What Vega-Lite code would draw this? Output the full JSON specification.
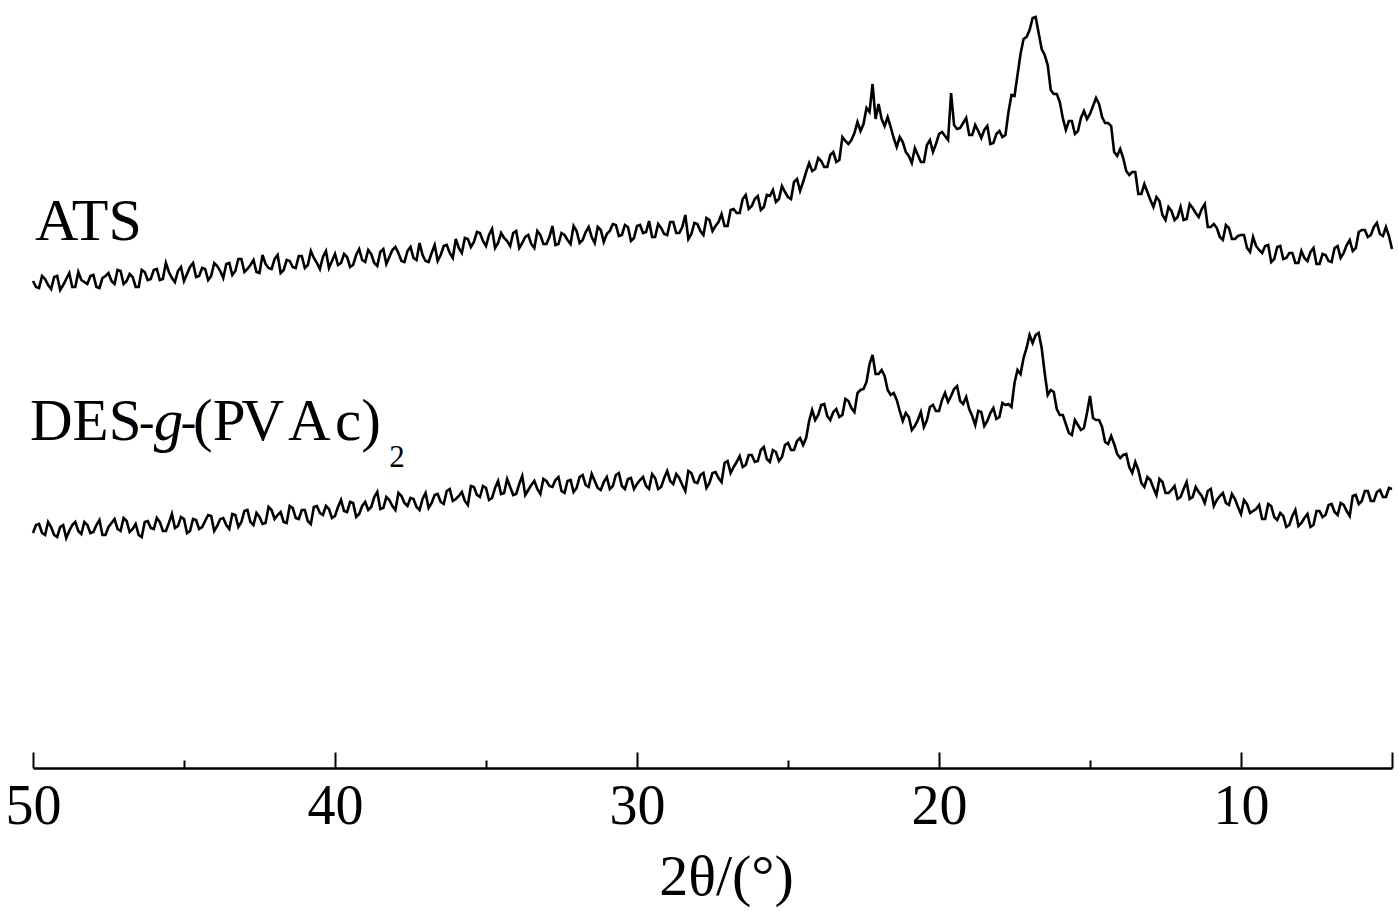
{
  "$schema": "https://vega.github.io/schema/vega-lite/v6.json",
  "description": "XRD patterns of ATS and DES-g-(PVAc)2",
  "width": 1359,
  "height": 768,
  "autosize": "none",
  "padding": {"left": 33, "right": 6, "top": 0, "bottom": 143},
  "config": {
    "view": {"stroke": null},
    "font": "Liberation Serif"
  },
  "datasets": {
    "xrd": [
      {"t":50.0,"a":487,"d":235},{"t":49.8,"a":480,"d":244},{"t":49.6,"a":489,"d":233},{"t":49.4,"a":479,"d":241},{"t":49.2,"a":492,"d":231},
      {"t":49.0,"a":483,"d":243},{"t":48.8,"a":495,"d":237},{"t":48.6,"a":481,"d":246},{"t":48.4,"a":488,"d":234},{"t":48.2,"a":484,"d":243},
      {"t":48.0,"a":493,"d":236},{"t":47.8,"a":480,"d":248},{"t":47.6,"a":492,"d":233},{"t":47.4,"a":487,"d":245},{"t":47.2,"a":498,"d":239},
      {"t":47.0,"a":484,"d":250},{"t":46.8,"a":494,"d":236},{"t":46.6,"a":481,"d":244},{"t":46.4,"a":498,"d":231},{"t":46.2,"a":488,"d":247},
      {"t":46.0,"a":498,"d":239},{"t":45.8,"a":488,"d":246},{"t":45.6,"a":505,"d":237},{"t":45.4,"a":490,"d":254},{"t":45.2,"a":497,"d":242},
      {"t":45.0,"a":487,"d":249},{"t":44.8,"a":501,"d":237},{"t":44.6,"a":491,"d":248},{"t":44.4,"a":500,"d":241},{"t":44.2,"a":488,"d":253},
      {"t":44.0,"a":505,"d":237},{"t":43.8,"a":497,"d":249},{"t":43.6,"a":504,"d":243},{"t":43.4,"a":493,"d":254},{"t":43.2,"a":509,"d":241},
      {"t":43.0,"a":496,"d":257},{"t":42.8,"a":503,"d":246},{"t":42.6,"a":496,"d":255},{"t":42.4,"a":513,"d":244},{"t":42.2,"a":500,"d":261},
      {"t":42.0,"a":509,"d":249},{"t":41.8,"a":495,"d":256},{"t":41.6,"a":508,"d":245},{"t":41.4,"a":501,"d":260},{"t":41.2,"a":512,"d":249},
      {"t":41.0,"a":500,"d":258},{"t":40.8,"a":517,"d":244},{"t":40.6,"a":505,"d":262},{"t":40.4,"a":511,"d":253},{"t":40.2,"a":500,"d":259},
      {"t":40.0,"a":514,"d":252},{"t":39.8,"a":505,"d":268},{"t":39.6,"a":511,"d":256},{"t":39.4,"a":503,"d":265},{"t":39.2,"a":519,"d":254},
      {"t":39.0,"a":506,"d":266},{"t":38.8,"a":514,"d":261},{"t":38.6,"a":502,"d":276},{"t":38.4,"a":519,"d":260},{"t":38.2,"a":511,"d":268},
      {"t":38.0,"a":521,"d":258},{"t":37.8,"a":507,"d":272},{"t":37.6,"a":517,"d":262},{"t":37.4,"a":510,"d":269},{"t":37.2,"a":525,"d":258},
      {"t":37.0,"a":507,"d":275},{"t":36.8,"a":515,"d":265},{"t":36.6,"a":507,"d":274},{"t":36.4,"a":522,"d":264},{"t":36.2,"a":515,"d":279},
      {"t":36.0,"a":529,"d":269},{"t":35.8,"a":515,"d":276},{"t":35.6,"a":529,"d":263},{"t":35.4,"a":526,"d":281},{"t":35.2,"a":535,"d":271},
      {"t":35.0,"a":522,"d":280},{"t":34.8,"a":539,"d":270},{"t":34.6,"a":525,"d":287},{"t":34.4,"a":530,"d":275},{"t":34.2,"a":522,"d":281},
      {"t":34.0,"a":537,"d":274},{"t":33.8,"a":525,"d":292},{"t":33.6,"a":533,"d":278},{"t":33.4,"a":520,"d":287},{"t":33.2,"a":533,"d":274},
      {"t":33.0,"a":524,"d":287},{"t":32.8,"a":542,"d":281},{"t":32.6,"a":524,"d":291},{"t":32.4,"a":533,"d":275},{"t":32.2,"a":524,"d":288},
      {"t":32.0,"a":537,"d":280},{"t":31.8,"a":528,"d":293},{"t":31.6,"a":541,"d":281},{"t":31.4,"a":525,"d":287},{"t":31.2,"a":538,"d":278},
      {"t":31.0,"a":534,"d":291},{"t":30.8,"a":544,"d":282},{"t":30.6,"a":532,"d":295},{"t":30.4,"a":543,"d":279},{"t":30.2,"a":527,"d":290},
      {"t":30.0,"a":542,"d":284},{"t":29.8,"a":535,"d":291},{"t":29.6,"a":547,"d":279},{"t":29.4,"a":531,"d":290},{"t":29.2,"a":540,"d":281},
      {"t":29.0,"a":533,"d":297},{"t":28.8,"a":546,"d":284},{"t":28.6,"a":535,"d":290},{"t":28.4,"a":553,"d":277},{"t":28.2,"a":534,"d":295},
      {"t":28.0,"a":544,"d":285},{"t":27.8,"a":533,"d":295},{"t":27.6,"a":548,"d":285},{"t":27.4,"a":542,"d":296},{"t":27.2,"a":554,"d":286},
      {"t":27.0,"a":542,"d":307},{"t":26.8,"a":559,"d":301},{"t":26.6,"a":555,"d":312},{"t":26.4,"a":573,"d":303},{"t":26.2,"a":562,"d":313},
      {"t":26.0,"a":572,"d":307},{"t":25.8,"a":561,"d":321},{"t":25.6,"a":572,"d":306},{"t":25.4,"a":566,"d":316},{"t":25.2,"a":582,"d":311},
      {"t":25.0,"a":571,"d":325},{"t":24.8,"a":586,"d":318},{"t":24.6,"a":577,"d":330},{"t":24.4,"a":596,"d":330},{"t":24.2,"a":597,"d":358},
      {"t":24.0,"a":610,"d":353},{"t":23.8,"a":601,"d":364},{"t":23.6,"a":613,"d":348},{"t":23.4,"a":606,"d":359},{"t":23.2,"a":631,"d":353},
      {"t":23.0,"a":624,"d":367},{"t":22.8,"a":635,"d":356},{"t":22.6,"a":637,"d":378},{"t":22.4,"a":660,"d":386},{"t":22.2,"a":684,"d":413},
      {"t":22.0,"a":664,"d":394},{"t":21.8,"a":642,"d":392},{"t":21.6,"a":641,"d":373},{"t":21.4,"a":621,"d":368},{"t":21.2,"a":626,"d":347},
      {"t":21.0,"a":612,"d":351},{"t":20.8,"a":620,"d":342},{"t":20.6,"a":606,"d":356},{"t":20.4,"a":623,"d":348},{"t":20.2,"a":616,"d":363},
      {"t":20.0,"a":634,"d":357},{"t":19.8,"a":632,"d":375},{"t":19.6,"a":675,"d":372},{"t":19.4,"a":639,"d":382},{"t":19.2,"a":645,"d":364},
      {"t":19.0,"a":633,"d":359},{"t":18.8,"a":643,"d":343},{"t":18.6,"a":630,"d":356},{"t":18.4,"a":642,"d":347},{"t":18.2,"a":625,"d":360},
      {"t":18.0,"a":637,"d":351},{"t":17.8,"a":633,"d":363},{"t":17.6,"a":673,"d":361},{"t":17.4,"a":693,"d":398},{"t":17.2,"a":729,"d":410},
      {"t":17.0,"a":738,"d":433},{"t":16.8,"a":751,"d":433},{"t":16.6,"a":719,"d":420},{"t":16.4,"a":703,"d":373},{"t":16.2,"a":674,"d":376},
      {"t":16.0,"a":666,"d":353},{"t":15.8,"a":638,"d":344},{"t":15.6,"a":647,"d":333},{"t":15.4,"a":637,"d":343},{"t":15.2,"a":657,"d":340},
      {"t":15.0,"a":654,"d":372},{"t":14.8,"a":670,"d":348},{"t":14.6,"a":651,"d":341},{"t":14.4,"a":645,"d":324},{"t":14.2,"a":616,"d":324},
      {"t":14.0,"a":619,"d":310},{"t":13.8,"a":597,"d":314},{"t":13.6,"a":596,"d":295},{"t":13.4,"a":574,"d":298},{"t":13.2,"a":584,"d":281},
      {"t":13.0,"a":568,"d":288},{"t":12.8,"a":571,"d":273},{"t":12.6,"a":553,"d":286},{"t":12.4,"a":561,"d":275},{"t":12.2,"a":548,"d":282},
      {"t":12.0,"a":561,"d":271},{"t":11.8,"a":549,"d":286},{"t":11.6,"a":560,"d":271},{"t":11.4,"a":551,"d":276},{"t":11.2,"a":564,"d":265},
      {"t":11.0,"a":541,"d":279},{"t":10.8,"a":540,"d":268},{"t":10.6,"a":528,"d":275},{"t":10.4,"a":540,"d":263},{"t":10.2,"a":529,"d":269},
      {"t":10.0,"a":533,"d":254},{"t":9.8,"a":520,"d":264},{"t":9.6,"a":531,"d":257},{"t":9.4,"a":518,"d":263},{"t":9.2,"a":522,"d":249},
      {"t":9.0,"a":506,"d":262},{"t":8.8,"a":521,"d":248},{"t":8.6,"a":509,"d":252},{"t":8.4,"a":515,"d":243},{"t":8.2,"a":505,"d":258},
      {"t":8.0,"a":517,"d":245},{"t":7.8,"a":507,"d":254},{"t":7.6,"a":520,"d":243},{"t":7.4,"a":504,"d":257},{"t":7.2,"a":513,"d":253},
      {"t":7.0,"a":506,"d":264},{"t":6.8,"a":522,"d":253},{"t":6.6,"a":515,"d":263},{"t":6.4,"a":528,"d":252},{"t":6.2,"a":520,"d":273},
      {"t":6.0,"a":538,"d":267},{"t":5.8,"a":531,"d":277},{"t":5.6,"a":541,"d":267},{"t":5.4,"a":534,"d":278},{"t":5.2,"a":541,"d":271},
      {"t":5.0,"a":519,"d":279},
      {"t":49.9,"a":481,"d":243},{"t":49.7,"a":492,"d":235},{"t":49.5,"a":483,"d":246},{"t":49.3,"a":491,"d":233},{"t":49.1,"a":478,"d":241},
      {"t":48.9,"a":489,"d":230},{"t":48.7,"a":481,"d":243},{"t":48.5,"a":496,"d":237},{"t":48.3,"a":486,"d":246},{"t":48.1,"a":492,"d":235},
      {"t":47.9,"a":481,"d":243},{"t":47.7,"a":490,"d":233},{"t":47.5,"a":495,"d":241},{"t":47.3,"a":484,"d":249},{"t":47.1,"a":497,"d":237},
      {"t":46.9,"a":487,"d":247},{"t":46.7,"a":491,"d":239},{"t":46.5,"a":481,"d":233},{"t":46.3,"a":496,"d":246},{"t":46.1,"a":489,"d":240},
      {"t":45.9,"a":499,"d":250},{"t":45.7,"a":489,"d":237},{"t":45.5,"a":496,"d":245},{"t":45.3,"a":486,"d":240},{"t":45.1,"a":501,"d":251},
      {"t":44.9,"a":494,"d":235},{"t":44.7,"a":505,"d":249},{"t":44.5,"a":492,"d":239},{"t":44.3,"a":499,"d":247},{"t":44.1,"a":492,"d":252},
      {"t":43.9,"a":502,"d":242},{"t":43.7,"a":490,"d":250},{"t":43.5,"a":505,"d":239},{"t":43.3,"a":497,"d":253},{"t":43.1,"a":509,"d":246},
      {"t":42.9,"a":499,"d":258},{"t":42.7,"a":508,"d":243},{"t":42.5,"a":495,"d":251},{"t":42.3,"a":504,"d":245},{"t":42.1,"a":499,"d":258},
      {"t":41.9,"a":513,"d":253},{"t":41.7,"a":498,"d":246},{"t":41.5,"a":507,"d":262},{"t":41.3,"a":500,"d":250},{"t":41.1,"a":512,"d":258},
      {"t":40.9,"a":503,"d":247},{"t":40.7,"a":510,"d":261},{"t":40.5,"a":499,"d":255},{"t":40.3,"a":517,"d":262},{"t":40.1,"a":507,"d":250},
      {"t":39.9,"a":503,"d":261},{"t":39.7,"a":514,"d":257},{"t":39.5,"a":501,"d":266},{"t":39.3,"a":513,"d":251},{"t":39.1,"a":508,"d":262},
      {"t":38.9,"a":518,"d":258},{"t":38.7,"a":505,"d":271},{"t":38.5,"a":516,"d":259},{"t":38.3,"a":504,"d":271},{"t":38.1,"a":518,"d":262},
      {"t":37.9,"a":515,"d":275},{"t":37.7,"a":506,"d":265},{"t":37.5,"a":521,"d":270},{"t":37.3,"a":508,"d":261},{"t":37.1,"a":513,"d":269},
      {"t":36.9,"a":506,"d":260},{"t":36.7,"a":523,"d":273},{"t":36.5,"a":513,"d":266},{"t":36.3,"a":523,"d":277},{"t":36.1,"a":510,"d":267},
      {"t":35.9,"a":520,"d":272},{"t":35.7,"a":530,"d":267},{"t":35.5,"a":521,"d":282},{"t":35.3,"a":536,"d":273},{"t":35.1,"a":527,"d":282},
      {"t":34.9,"a":533,"d":268},{"t":34.7,"a":520,"d":280},{"t":34.5,"a":535,"d":274},{"t":34.3,"a":527,"d":289},{"t":34.1,"a":535,"d":273},
      {"t":33.9,"a":520,"d":284},{"t":33.7,"a":531,"d":273},{"t":33.5,"a":524,"d":283},{"t":33.3,"a":537,"d":279},{"t":33.1,"a":524,"d":289},
      {"t":32.9,"a":531,"d":282},{"t":32.7,"a":523,"d":288},{"t":32.5,"a":535,"d":277},{"t":32.3,"a":528,"d":287},{"t":32.1,"a":542,"d":276},
      {"t":31.9,"a":525,"d":291},{"t":31.7,"a":536,"d":283},{"t":31.5,"a":531,"d":294},{"t":31.3,"a":541,"d":280},{"t":31.1,"a":526,"d":286},
      {"t":30.9,"a":537,"d":279},{"t":30.7,"a":543,"d":293},{"t":30.5,"a":533,"d":282},{"t":30.3,"a":541,"d":289},{"t":30.1,"a":530,"d":279},
      {"t":29.9,"a":543,"d":288},{"t":29.7,"a":536,"d":282},{"t":29.5,"a":531,"d":294},{"t":29.3,"a":544,"d":279},{"t":29.1,"a":534,"d":290},
      {"t":28.9,"a":546,"d":287},{"t":28.7,"a":535,"d":294},{"t":28.5,"a":541,"d":283},{"t":28.3,"a":529,"d":297},{"t":28.1,"a":545,"d":286},
      {"t":27.9,"a":537,"d":293},{"t":27.7,"a":550,"d":280},{"t":27.5,"a":537,"d":295},{"t":27.3,"a":546,"d":290},{"t":27.1,"a":542,"d":305},
      {"t":26.9,"a":558,"d":295},{"t":26.7,"a":555,"d":306},{"t":26.5,"a":569,"d":301},{"t":26.3,"a":559,"d":313},{"t":26.1,"a":569,"d":306},
      {"t":25.9,"a":558,"d":318},{"t":25.7,"a":573,"d":309},{"t":25.5,"a":578,"d":318},{"t":25.3,"a":569,"d":307},{"t":25.1,"a":576,"d":323},
      {"t":24.9,"a":569,"d":318},{"t":24.7,"a":589,"d":327},{"t":24.5,"a":586,"d":323},{"t":24.3,"a":605,"d":347},{"t":24.1,"a":599,"d":348},
      {"t":23.9,"a":607,"d":363},{"t":23.7,"a":601,"d":352},{"t":23.5,"a":616,"d":356},{"t":23.3,"a":608,"d":351},{"t":23.1,"a":627,"d":369},
      {"t":22.9,"a":628,"d":360},{"t":22.7,"a":646,"d":375},{"t":22.5,"a":644,"d":379},{"t":22.3,"a":656,"d":404},{"t":22.1,"a":649,"d":394},
      {"t":21.9,"a":649,"d":398},{"t":21.7,"a":651,"d":378},{"t":21.5,"a":630,"d":375},{"t":21.3,"a":631,"d":357},{"t":21.1,"a":616,"d":355},
      {"t":20.9,"a":605,"d":338},{"t":20.7,"a":613,"d":348},{"t":20.5,"a":606,"d":341},{"t":20.3,"a":628,"d":361},{"t":20.1,"a":624,"d":357},
      {"t":19.9,"a":636,"d":368},{"t":19.7,"a":628,"d":366},{"t":19.5,"a":643,"d":379},{"t":19.3,"a":640,"d":367},{"t":19.1,"a":650,"d":371},
      {"t":18.9,"a":633,"d":352},{"t":18.7,"a":637,"d":357},{"t":18.5,"a":638,"d":342},{"t":18.3,"a":624,"d":355},{"t":18.1,"a":634,"d":349},
      {"t":17.9,"a":631,"d":365},{"t":17.7,"a":656,"d":364},{"t":17.5,"a":672,"d":385},{"t":17.3,"a":714,"d":394},{"t":17.1,"a":731,"d":420},
      {"t":16.9,"a":750,"d":425},{"t":16.7,"a":735,"d":435},{"t":16.5,"a":713,"d":395},{"t":16.3,"a":678,"d":378},{"t":16.1,"a":674,"d":359},
      {"t":15.9,"a":650,"d":353},{"t":15.7,"a":647,"d":335},{"t":15.5,"a":634,"d":348},{"t":15.3,"a":650,"d":338},{"t":15.1,"a":649,"d":355},
      {"t":14.9,"a":662,"d":350},{"t":14.7,"a":664,"d":348},{"t":14.5,"a":645,"d":326},{"t":14.3,"a":642,"d":332},{"t":14.1,"a":612,"d":314},
      {"t":13.9,"a":610,"d":313},{"t":13.7,"a":593,"d":301},{"t":13.5,"a":596,"d":306},{"t":13.3,"a":574,"d":285},{"t":13.1,"a":576,"d":291},
      {"t":12.9,"a":561,"d":280},{"t":12.7,"a":567,"d":289},{"t":12.5,"a":548,"d":275},{"t":12.3,"a":557,"d":278},{"t":12.1,"a":551,"d":269},
      {"t":11.9,"a":548,"d":279},{"t":11.7,"a":564,"d":269},{"t":11.5,"a":555,"d":281},{"t":11.3,"a":559,"d":272},{"t":11.1,"a":541,"d":277},
      {"t":10.9,"a":544,"d":262},{"t":10.7,"a":531,"d":272},{"t":10.5,"a":543,"d":265},{"t":10.3,"a":529,"d":274},{"t":10.1,"a":532,"d":261},
      {"t":9.9,"a":533,"d":268},{"t":9.7,"a":516,"d":255},{"t":9.5,"a":522,"d":259},{"t":9.3,"a":515,"d":249},{"t":9.1,"a":523,"d":264},
      {"t":8.9,"a":509,"d":251},{"t":8.7,"a":522,"d":255},{"t":8.5,"a":510,"d":241},{"t":8.3,"a":515,"d":252},{"t":8.1,"a":505,"d":242},
      {"t":7.9,"a":510,"d":250},{"t":7.7,"a":516,"d":241},{"t":7.5,"a":504,"d":257},{"t":7.3,"a":514,"d":251},{"t":7.1,"a":507,"d":263},
      {"t":6.9,"a":520,"d":256},{"t":6.7,"a":510,"d":265},{"t":6.5,"a":523,"d":257},{"t":6.3,"a":517,"d":272},{"t":6.1,"a":536,"d":264},
      {"t":5.9,"a":538,"d":277},{"t":5.7,"a":533,"d":267},{"t":5.5,"a":545,"d":276},{"t":5.3,"a":532,"d":271},{"t":5.1,"a":532,"d":280}
    ]
  },
  "layer": [
    {
      "data": {"name": "xrd"},
      "mark": {"type": "line", "color": "#000000", "strokeWidth": 2.6},
      "encoding": {
        "x": {
          "field": "t",
          "type": "quantitative",
          "scale": {"domain": [50, 5], "nice": false, "zero": false},
          "axis": {
            "values": [50, 45, 40, 35, 30, 25, 20, 15, 10, 5],
            "labelExpr": "datum.value % 10 === 0 ? datum.value : ''",
            "tickSize": {"condition": {"test": "datum.value % 10 === 0 || datum.value === 5", "value": -16}, "value": -8},
            "tickColor": "#000000",
            "tickWidth": 2,
            "domainColor": "#000000",
            "domainWidth": 2.5,
            "grid": false,
            "labelFont": "Liberation Serif",
            "labelFontSize": 56,
            "labelColor": "#000000",
            "labelPadding": 27,
            "labelFlush": false,
            "labelOverlap": false,
            "labelBound": false,
            "title": "2θ/(°)",
            "titleFont": "Liberation Serif",
            "titleFontSize": 58,
            "titleFontWeight": "normal",
            "titleColor": "#000000",
            "titlePadding": 6,
            "titleX": 693
          }
        },
        "y": {
          "field": "a",
          "type": "quantitative",
          "scale": {"domain": [0, 768], "nice": false, "zero": false},
          "axis": null
        }
      }
    },
    {
      "data": {"name": "xrd"},
      "mark": {"type": "line", "color": "#000000", "strokeWidth": 2.6},
      "encoding": {
        "x": {"field": "t", "type": "quantitative"},
        "y": {"field": "d", "type": "quantitative"}
      }
    },
    {
      "data": {"values": [{"t": 49.93, "y": 528, "label": "ATS"}]},
      "mark": {"type": "text", "align": "left", "baseline": "alphabetic", "font": "Liberation Serif", "fontSize": 60, "color": "#000000"},
      "encoding": {
        "x": {"field": "t", "type": "quantitative"},
        "y": {"field": "y", "type": "quantitative"},
        "text": {"field": "label"}
      }
    },
    {
      "data": {"values": [
        {"t": 50.099, "y": 328, "label": "DES"},
        {"t": 44.7, "y": 328, "label": "(P"},
        {"t": 43.1, "y": 328, "label": "V"},
        {"t": 41.56, "y": 328, "label": "A"},
        {"t": 40.0, "y": 328, "label": "c)"}
      ]},
      "mark": {"type": "text", "align": "left", "baseline": "alphabetic", "font": "Liberation Serif", "fontSize": 59, "color": "#000000"},
      "encoding": {
        "x": {"field": "t", "type": "quantitative"},
        "y": {"field": "y", "type": "quantitative"},
        "text": {"field": "label"}
      }
    },
    {
      "data": {"values": [
        {"t": 46.49, "y": 331, "label": "-"},
        {"t": 45.11, "y": 331, "label": "-"}
      ]},
      "mark": {"type": "text", "align": "left", "baseline": "alphabetic", "font": "Liberation Serif", "fontSize": 46, "color": "#000000"},
      "encoding": {
        "x": {"field": "t", "type": "quantitative"},
        "y": {"field": "y", "type": "quantitative"},
        "text": {"field": "label"}
      }
    },
    {
      "data": {"values": [{"t": 46.0, "y": 328, "label": "g"}]},
      "mark": {"type": "text", "align": "left", "baseline": "alphabetic", "font": "Liberation Serif", "fontSize": 59, "fontStyle": "italic", "color": "#000000"},
      "encoding": {
        "x": {"field": "t", "type": "quantitative"},
        "y": {"field": "y", "type": "quantitative"},
        "text": {"field": "label"}
      }
    },
    {
      "data": {"values": [{"t": 38.2, "y": 301, "label": "2"}]},
      "mark": {"type": "text", "align": "left", "baseline": "alphabetic", "font": "Liberation Serif", "fontSize": 31, "color": "#000000"},
      "encoding": {
        "x": {"field": "t", "type": "quantitative"},
        "y": {"field": "y", "type": "quantitative"},
        "text": {"field": "label"}
      }
    }
  ]
}
